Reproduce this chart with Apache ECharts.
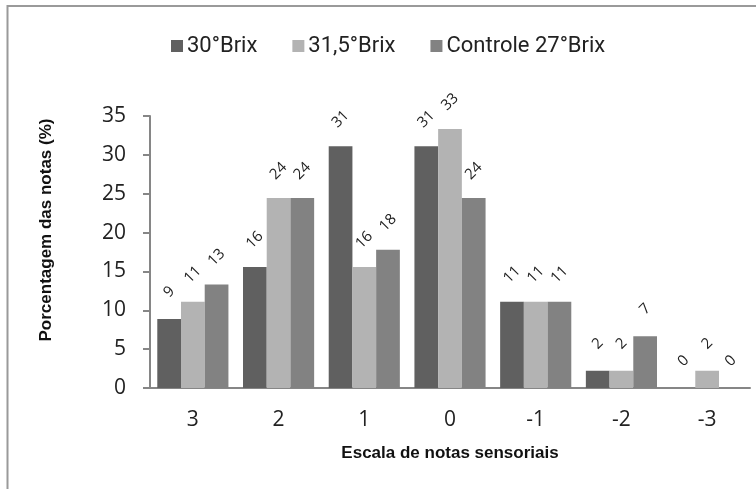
<!DOCTYPE html>
<html>
<head>
<meta charset="utf-8">
<style>
  html, body { margin: 0; padding: 0; background: #ffffff; }
  #chart { width: 756px; height: 489px; }
</style>
<script src="https://cdn.jsdelivr.net/npm/echarts@6/dist/echarts.min.js"></script>
</head>
<body>
<div id="chart"></div>
<script>
// Sensory score categories (hedonic scale, from best to worst)
const categories = ['3', '2', '1', '0', '-1', '-2', '-3'];

// Percentage of scores per formulation
const brix30 = [8.89, 15.56, 31.11, 31.11, 11.11, 2.22, 0];
const brix315 = [11.11, 24.44, 15.56, 33.33, 11.11, 2.22, 2.22];
const controle27 = [13.33, 24.44, 17.78, 24.44, 11.11, 6.67, 0];

const seriesNames = ['30°Brix', '31,5°Brix', 'Controle 27°Brix'];
const seriesColors = ['#606060', '#b3b3b3', '#828282'];

const yTicks = [0, 5, 10, 15, 20, 25, 30, 35];

const chart = echarts.init(document.getElementById('chart'), null, { renderer: 'canvas' });

const valueLabel = {
  show: true,
  position: 'top',
  distance: 27,
  rotate: 45,
  align: 'center',
  verticalAlign: 'middle',
  fontFamily: '"Open Sans", sans-serif',
  fontSize: 15,
  color: '#222222',
  formatter: p => Math.round(p.value).toString()
};

function makeSeries(name, data, color) {
  return {
    name: name,
    type: 'bar',
    data: data,
    barGap: '0%',
    barCategoryGap: '17%',
    itemStyle: { color: color },
    label: valueLabel,
    emphasis: { disabled: true }
  };
}

chart.setOption({
  animation: false,
  backgroundColor: '#ffffff',
  graphic: [{
    type: 'rect',
    shape: { x: 7.5, y: 6, width: 800, height: 520 },
    style: { fill: 'none', stroke: '#9a9a9a', lineWidth: 2 },
    silent: true
  }],
  legend: {
    data: seriesNames,
    left: 166,
    top: 30,
    itemWidth: 12,
    itemHeight: 12,
    itemGap: 35,
    icon: 'rect',
    textStyle: {
      fontFamily: 'Roboto, sans-serif',
      fontSize: 22,
      color: '#222222',
      padding: [0, 0, 0, -1]
    }
  },
  grid: { left: 150, right: 6, top: 116, bottom: 101, containLabel: false },
  xAxis: {
    type: 'category',
    data: categories,
    name: 'Escala de notas sensoriais',
    nameLocation: 'middle',
    nameGap: 57,
    nameTextStyle: {
      fontFamily: '"Liberation Sans", Arial, sans-serif',
      fontWeight: 'bold',
      fontSize: 17,
      color: '#111111'
    },
    axisLine: { lineStyle: { color: '#868686', width: 2 } },
    axisTick: { show: false },
    axisLabel: {
      margin: 22,
      fontFamily: '"Open Sans", sans-serif',
      fontSize: 21,
      color: '#222222'
    }
  },
  yAxis: {
    type: 'value',
    min: yTicks[0],
    max: yTicks[yTicks.length - 1],
    interval: 5,
    name: 'Porcentagem das notas (%)',
    nameLocation: 'middle',
    nameGap: 95,
    nameTextStyle: {
      fontFamily: '"Liberation Sans", Arial, sans-serif',
      fontWeight: 'bold',
      fontSize: 17,
      color: '#111111',
      padding: [0, 0, 0, 44]
    },
    axisLine: { show: true, lineStyle: { color: '#868686', width: 2 } },
    axisTick: { show: true, length: 7, lineStyle: { color: '#868686', width: 2 } },
    splitLine: { show: false },
    axisLabel: {
      margin: 24,
      fontFamily: '"Open Sans", sans-serif',
      fontSize: 21,
      color: '#222222'
    }
  },
  series: [
    makeSeries(seriesNames[0], brix30, seriesColors[0]),
    makeSeries(seriesNames[1], brix315, seriesColors[1]),
    makeSeries(seriesNames[2], controle27, seriesColors[2])
  ]
});
</script>
</body>
</html>
